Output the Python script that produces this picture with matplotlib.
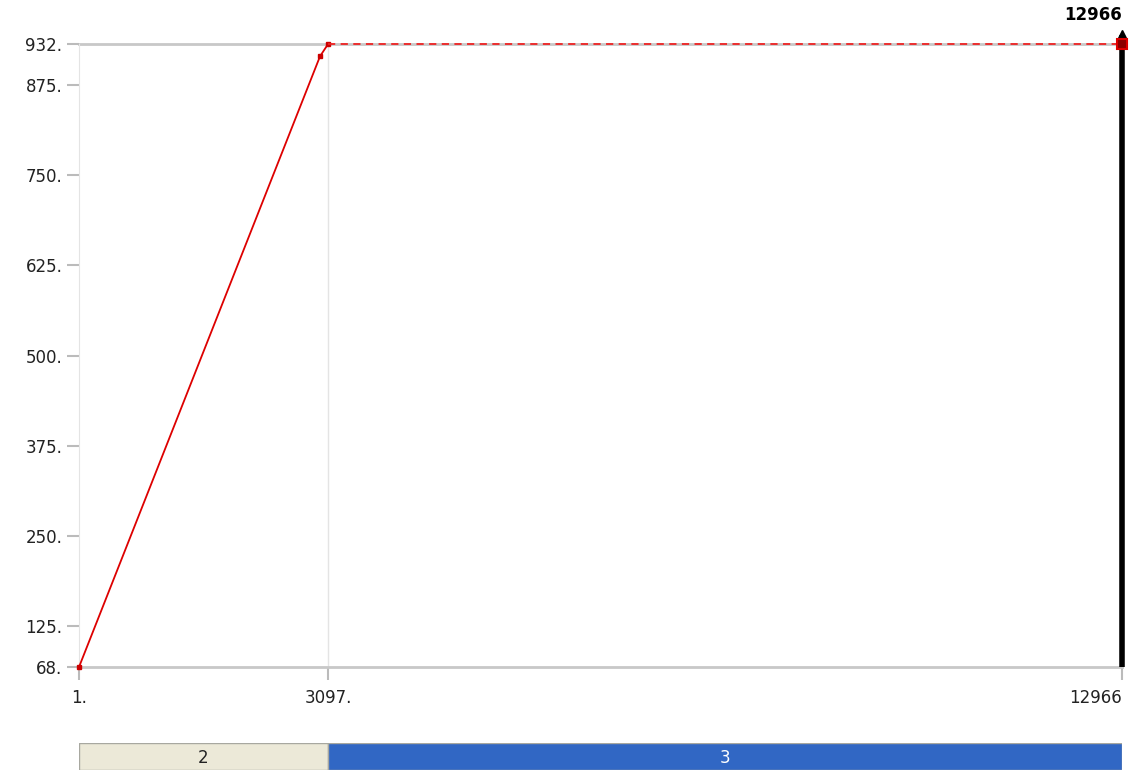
import matplotlib
matplotlib.use("Agg")
from matplotlib import pyplot as plt

# Solid red series
xs = [1, 2997, 3097]
ys = [68, 915, 932]

# Dashed continuation to the end
dash_x = [3097, 12966]
dash_y = [932, 932]

# End marker / current position
end_x = 12966
end_label = "12966"

# Tick values
yticks = [68, 125, 250, 375, 500, 625, 750, 875, 932]
xticks = [1, 3097, 12966]
xtick_labels = ["1.", "3097.", "12966"]

# Segment bar below the chart
seg_starts = [1, 3097]
seg_ends = [3097, 12966]
seg_labels = ["2", "3"]
seg_colors = ["#ECE9D8", "#3167C4"]
seg_text_colors = ["#222222", "white"]

xmin, xmax = 1, 12966
ymin, ymax = 68, 932

fig = plt.figure(figsize=(11.32, 7.71), dpi=100)
ax = fig.add_axes([0.0698, 0.1349, 0.9214, 0.808])

ax.set_xlim(xmin, xmax)
ax.set_ylim(ymin, ymax)

for s in ["right", "top"]:
    ax.spines[s].set_visible(False)
ax.spines["left"].set_color("#e4e4e4")
ax.spines["bottom"].set_color("#c8c8c8")
ax.spines["bottom"].set_linewidth(2)

# gridlines: top horizontal and vertical at 3097
ax.axhline(ymax, color="#c8c8c8", lw=2, zorder=1, clip_on=False)
ax.axvline(3097, color="#e4e4e4", lw=1, zorder=1)

ax.plot(xs, ys, color="#dd0000", lw=1.3, marker="s", markersize=3.5,
        markerfacecolor="#cc0000", markeredgecolor="#cc0000", zorder=3, clip_on=False)
ax.plot(dash_x, dash_y, color="#ee2222", lw=1.3, dashes=(4, 3), zorder=3, clip_on=False)

# black end bar with small arrow head on top
ax.plot([end_x, end_x], [ymin, ymax + 12], color="black", lw=4,
        solid_capstyle="butt", zorder=4, clip_on=False)
ax.plot([end_x], [ymax + 14], marker="^", markersize=6, color="black",
        zorder=4, clip_on=False)
ax.plot([end_x], [ymax], marker="s", markersize=7, markerfacecolor="#8b0000",
        markeredgecolor="#dd0000", markeredgewidth=1.5, zorder=5, clip_on=False)
ax.text(end_x, ymax + 28, end_label, ha="right", va="bottom", fontsize=12,
        fontweight="bold", color="black")

ax.set_yticks(yticks)
ax.set_yticklabels([f"{v}." for v in yticks])
ax.set_xticks(xticks)
ax.set_xticklabels(xtick_labels)
ax.tick_params(axis="both", colors="#bbbbbb", labelcolor="#222222",
               labelsize=12, length=9, width=1.5)
ax.tick_params(axis="y", pad=3)
ax.tick_params(axis="x", pad=7)
ax.get_xticklabels()[-1].set_horizontalalignment("right")

# segment bar
bx = fig.add_axes([0.0698, 0.0013, 0.9214, 0.035])
bx.set_xlim(xmin, xmax)
bx.set_ylim(0, 1)
for a, b, lab, c, tc in zip(seg_starts, seg_ends, seg_labels, seg_colors, seg_text_colors):
    bx.barh(0.5, b - a, left=a, height=1, color=c, edgecolor="#a8a8a0", lw=1)
    bx.text((a + b) / 2, 0.45, lab, ha="center", va="center", fontsize=12, color=tc)
bx.axis("off")

plt.savefig("out.png", dpi=100)
